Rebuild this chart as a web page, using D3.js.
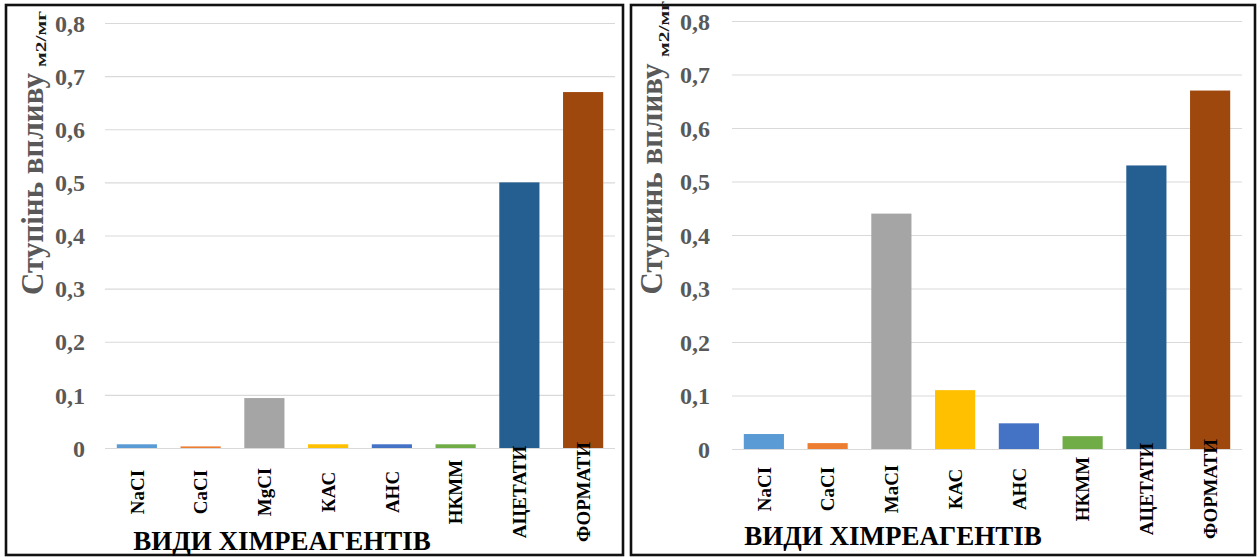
<!DOCTYPE html>
<html>
<head>
<meta charset="utf-8">
<script src="https://cdn.jsdelivr.net/npm/d3@7"></script>
<style>
  html, body { margin: 0; padding: 0; background: #fff; }
  svg { display: block; }
  text { font-family: "Liberation Serif", "Times New Roman", serif; font-weight: bold; }
</style>
</head>
<body>
<svg id="chart" width="1260" height="557"></svg>
<script>
// Categories and values for the two panels
const categoriesA = ["NaCI", "CaCI", "MgCI", "КАС", "АНС", "НКММ", "АЦЕТАТИ", "ФОРМАТИ"];
const valuesA = [0.007, 0.003, 0.094, 0.007, 0.007, 0.007, 0.5, 0.67];

const categoriesB = ["NaCI", "CaCI", "MaCI", "КАС", "АНС", "НКММ", "АЦЕТАТИ", "ФОРМАТИ"];
const valuesB = [0.028, 0.011, 0.44, 0.11, 0.048, 0.024, 0.53, 0.67];

const barColors = ["#5B9BD5", "#ED7D31", "#A5A5A5", "#FFC000", "#4472C4", "#70AD47", "#255E91", "#9E480E"];

const yTickValues = [0, 0.1, 0.2, 0.3, 0.4, 0.5, 0.6, 0.7, 0.8];
const yTickLabels = ["0", "0,1", "0,2", "0,3", "0,4", "0,5", "0,6", "0,7", "0,8"];

const yTitleA = "Ступінь впливу";
const yTitleB = "Ступинь впливу";
const yUnit = "м2/мг";
const xTitle = "ВИДИ ХІМРЕАГЕНТІВ";

const svg = d3.select("#chart");

function drawPanel(cfg) {
  const g = svg.append("g");

  // panel frame
  g.append("rect")
    .attr("x", cfg.frame[0]).attr("y", cfg.frame[1])
    .attr("width", cfg.frame[2] - cfg.frame[0]).attr("height", cfg.frame[3] - cfg.frame[1])
    .attr("fill", "none").attr("stroke", "#111").attr("stroke-width", 2.6);

  const x = d3.scaleBand().domain(cfg.categories).range([cfg.left, cfg.right]).paddingInner(0.37).paddingOuter(0.185);
  const y = d3.scaleLinear().domain([0, 0.8]).range([cfg.bottom, cfg.top]);

  // gridlines + tick labels
  const yAxis = d3.axisLeft(y)
    .tickValues(yTickValues)
    .tickFormat((d, i) => yTickLabels[i])
    .tickSize(-(cfg.right - cfg.left))
    .tickPadding(cfg.tickPad);

  const ay = g.append("g").attr("transform", `translate(${cfg.left},0)`).call(yAxis);
  ay.select(".domain").remove();
  ay.selectAll(".tick line").attr("stroke", "#d9d9d9").attr("stroke-width", 1.2);
  ay.selectAll(".tick text")
    .attr("fill", "#595959")
    .style("font-size", "24px")
    .attr("dy", "0.34em");

  // bars
  g.selectAll("rect.bar")
    .data(cfg.values)
    .join("rect")
    .attr("class", "bar")
    .attr("x", (d, i) => x(cfg.categories[i]))
    .attr("width", x.bandwidth())
    .attr("y", d => y(d))
    .attr("height", d => y(0) - y(d))
    .attr("fill", (d, i) => barColors[i]);

  // category labels, rotated
  const xAxis = d3.axisBottom(x).tickSize(0).tickPadding(0);
  const ax = g.append("g").attr("transform", `translate(0,${cfg.bottom})`).call(xAxis);
  ax.select(".domain").remove();
  ax.selectAll(".tick text")
    .attr("fill", "#000")
    .style("font-size", "19px")
    .attr("text-anchor", "middle")
    .attr("transform", `translate(0,${cfg.labelMid}) rotate(-90)`)
    .attr("x", 0).attr("y", 0).attr("dy", "0.35em");

  // axis titles
  g.append("text")
    .attr("transform", `translate(${cfg.yTitleX},${cfg.yTitleMid}) rotate(-90)`)
    .attr("text-anchor", "middle")
    .attr("fill", "#595959")
    .style("font-size", "31px")
    .text(cfg.yTitle);

  g.append("text")
    .attr("transform", `translate(${cfg.yUnitX},${cfg.yUnitStart}) rotate(-90)`)
    .attr("text-anchor", "start")
    .attr("fill", "#1a1a1a")
    .style("font-size", "15px")
    .attr("textLength", 56)
    .attr("lengthAdjust", "spacingAndGlyphs")
    .text(yUnit);

  g.append("text")
    .attr("x", cfg.xTitleMid).attr("y", cfg.xTitleY)
    .attr("text-anchor", "middle")
    .attr("fill", "#000")
    .style("font-size", "27px")
    .text(xTitle);
}

drawPanel({
  frame: [6, 5, 623, 555],
  categories: categoriesA, values: valuesA, yTitle: yTitleA,
  left: 105, right: 615, top: 23, bottom: 448, tickPad: 20,
  labelMid: 44,
  yTitleX: 43, yTitleMid: 184,
  yUnitX: 46, yUnitStart: 67,
  xTitleMid: 282, xTitleY: 550
});

drawPanel({
  frame: [631, 5, 1255, 555],
  categories: categoriesB, values: valuesB, yTitle: yTitleB,
  left: 732, right: 1242, top: 21, bottom: 449, tickPad: 22,
  labelMid: 40,
  yTitleX: 662, yTitleMid: 179,
  yUnitX: 669, yUnitStart: 57,
  xTitleMid: 893, xTitleY: 545
});
</script>
</body>
</html>
